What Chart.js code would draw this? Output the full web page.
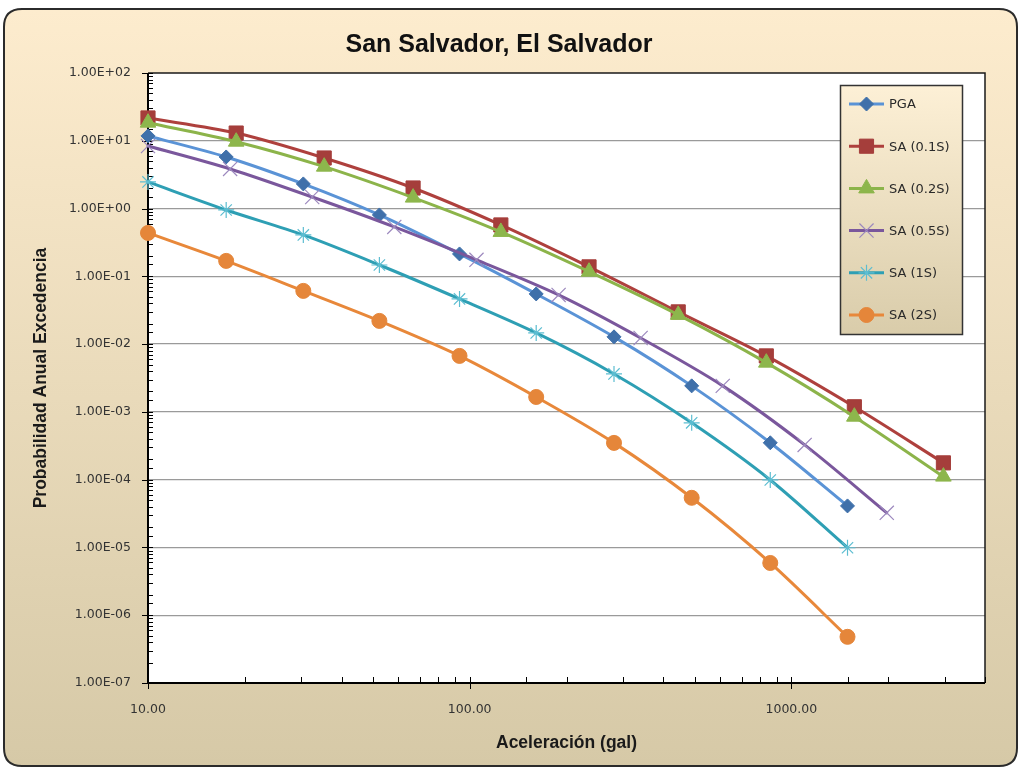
<!DOCTYPE html>
<html><head><meta charset="utf-8">
<script src="https://cdn.jsdelivr.net/npm/chart.js@4.4.1/dist/chart.umd.min.js"></script>
<style>html,body{margin:0;padding:0;background:#fff}canvas{display:block}</style>
</head><body>
<canvas id="c" width="1020" height="769"></canvas>
<script>
// ---- data ----
const chartTitle = 'San Salvador, El Salvador';
const xAxisTitle = 'Aceleración (gal)';
const yAxisTitle = 'Probabilidad Anual Excedencia';
const seriesNames = ['PGA', 'SA (0.1S)', 'SA (0.2S)', 'SA (0.5S)', 'SA (1S)', 'SA (2S)'];

const xPGA  = [10, 17.5, 30.4, 52.4, 93, 161, 281, 490, 860, 1495];
const xSA01 = [10, 18.8, 35.3, 66.7, 125, 235, 445, 836, 1570, 2970];
const xSA02 = [10, 18.8, 35.3, 66.7, 125, 235, 445, 836, 1570, 2970];
const xSA05 = [10, 18, 32.4, 58.3, 105, 189, 340, 612, 1100, 1980];
const xSA1  = [10, 17.5, 30.4, 52.4, 93, 161, 281, 490, 860, 1495];
const xSA2  = [10, 17.5, 30.4, 52.4, 93, 161, 281, 490, 860, 1495];

const yPGA  = [11.8, 5.77, 2.31, 0.805, 0.214, 0.055, 0.0128, 0.00242, 3.5e-4, 4.1e-5];
const ySA01 = [21.7, 13.0, 5.57, 2.01, 0.573, 0.138, 0.0299, 0.0067, 0.00119, 1.77e-4];
const ySA02 = [18.5, 9.7, 4.15, 1.45, 0.452, 0.117, 0.027, 0.00533, 8.5e-4, 1.11e-4];
const ySA05 = [8.38, 3.84, 1.48, 0.536, 0.175, 0.0532, 0.0123, 0.00242, 3.26e-4, 3.24e-5];
const ySA1  = [2.47, 0.953, 0.408, 0.147, 0.0464, 0.0146, 0.00363, 6.9e-4, 9.9e-5, 9.9e-6];
const ySA2  = [0.437, 0.169, 0.061, 0.022, 0.0067, 0.00166, 3.49e-4, 5.4e-5, 5.9e-6, 4.8e-7];

const xLabelValues = [10, 100, 1000];
const yLabelValues = [1e2, 1e1, 1e0, 1e-1, 1e-2, 1e-3, 1e-4, 1e-5, 1e-6, 1e-7];

// ---- styles ----
const styles = [
  {line: '#5A93D6', fill: '#3F70AA', stroke: '#3F70AA', shape: 'rectRot', r: 7, bw: 1},
  {line: '#AE403D', fill: '#A53E3B', stroke: '#A53E3B', shape: 'rect', r: 10, bw: 1},
  {line: '#8CB44A', fill: '#8DB64C', stroke: '#8DB64C', shape: 'triangle', r: 9, bw: 1},
  {line: '#7A579C', fill: 'rgba(0,0,0,0)', stroke: '#9C88BE', shape: 'crossRot', r: 10, bw: 1.2},
  {line: '#2E9FB4', fill: 'rgba(0,0,0,0)', stroke: '#5CBDD1', shape: 'star', r: 8, bw: 1.2},
  {line: '#E8883A', fill: '#E5863A', stroke: '#E5863A', shape: 'circle', r: 7.5, bw: 1}
];
const xs = [xPGA, xSA01, xSA02, xSA05, xSA1, xSA2];
const ys = [yPGA, ySA01, ySA02, ySA05, ySA1, ySA2];

const datasets = seriesNames.map((name, i) => ({
  label: name,
  data: xs[i].map((x, k) => ({x: x, y: ys[i][k]})),
  borderColor: styles[i].line,
  backgroundColor: styles[i].fill,
  borderWidth: 3,
  tension: 0.3,
  clip: false,
  pointStyle: styles[i].shape,
  pointRadius: styles[i].r,
  pointHoverRadius: styles[i].r,
  pointBackgroundColor: styles[i].fill,
  pointBorderColor: styles[i].stroke,
  pointBorderWidth: styles[i].bw,
  order: 10 - i
}));

function isPow10(v) {
  const l = Math.log10(v);
  return Math.abs(l - Math.round(l)) < 1e-6;
}
function fmtE(v) {
  const e = Math.round(Math.log10(v));
  const m = v / Math.pow(10, e);
  const s = e < 0 ? '-' : '+';
  const a = Math.abs(e);
  return m.toFixed(2) + 'E' + s + (a < 10 ? '0' + a : '' + a);
}

const TICK_FONT = {family: '"DejaVu Sans", Verdana, sans-serif', size: 12.5};
const TITLE_FAMILY = '"Liberation Sans", Arial, sans-serif';

const decor = {
  id: 'decor',
  beforeDraw(chart) {
    const ctx = chart.ctx;
    const W = chart.width, H = chart.height;
    ctx.save();
    ctx.fillStyle = '#ffffff';
    ctx.fillRect(0, 0, W, H);
    const x0 = 4, y0 = 9, x1 = 1017, y1 = 766, r = 18;
    const g = ctx.createLinearGradient(0, y0, 0, y1);
    g.addColorStop(0, '#FDECCE');
    g.addColorStop(1, '#D6C9A7');
    ctx.beginPath();
    ctx.moveTo(x0 + r, y0);
    ctx.lineTo(x1 - r, y0);
    ctx.quadraticCurveTo(x1, y0, x1, y0 + r);
    ctx.lineTo(x1, y1 - r);
    ctx.quadraticCurveTo(x1, y1, x1 - r, y1);
    ctx.lineTo(x0 + r, y1);
    ctx.quadraticCurveTo(x0, y1, x0, y1 - r);
    ctx.lineTo(x0, y0 + r);
    ctx.quadraticCurveTo(x0, y0, x0 + r, y0);
    ctx.closePath();
    ctx.fillStyle = g;
    ctx.fill();
    ctx.lineWidth = 2;
    ctx.strokeStyle = '#2b2b2b';
    ctx.stroke();
    const a = chart.chartArea;
    ctx.fillStyle = '#ffffff';
    ctx.fillRect(a.left, a.top, a.right - a.left, a.bottom - a.top);
    ctx.fillStyle = '#111111';
    ctx.font = 'bold 25px ' + TITLE_FAMILY;
    ctx.textAlign = 'center';
    ctx.textBaseline = 'middle';
    ctx.fillText(chartTitle, 499, 45);
    ctx.restore();
  },
  beforeDatasetsDraw(chart) {
    const ctx = chart.ctx;
    const a = chart.chartArea;
    const xS = chart.scales.x, yS = chart.scales.y;
    ctx.save();
    ctx.strokeStyle = '#1a1a1a';
    ctx.lineWidth = 1.5;
    ctx.beginPath();
    ctx.moveTo(a.left, a.top); ctx.lineTo(a.right, a.top); ctx.lineTo(a.right, a.bottom);
    ctx.stroke();
    ctx.strokeStyle = '#000';
    ctx.lineWidth = 2;
    ctx.beginPath();
    ctx.moveTo(a.left, a.top); ctx.lineTo(a.left, a.bottom); ctx.lineTo(a.right, a.bottom);
    ctx.stroke();
    ctx.lineWidth = 1;
    ctx.beginPath();
    yS.ticks.forEach(t => {
      const p = Math.round(yS.getPixelForValue(t.value)) + 0.5;
      if (isPow10(t.value)) { ctx.moveTo(a.left - 6, p); ctx.lineTo(a.left + 5, p); }
      else { ctx.moveTo(a.left, p); ctx.lineTo(a.left + 5, p); }
    });
    xS.ticks.forEach(t => {
      if (t.value > xS.max) return;
      const p = Math.round(xS.getPixelForValue(t.value)) + 0.5;
      if (isPow10(t.value)) { ctx.moveTo(p, a.bottom + 6); ctx.lineTo(p, a.bottom - 6); }
      else { ctx.moveTo(p, a.bottom); ctx.lineTo(p, a.bottom - 6); }
    });
    ctx.stroke();
    ctx.restore();
  },
  afterDraw(chart) {
    const ctx = chart.ctx;
    ctx.save();
    const bx = 840, by = 85, bw = 123, bh = 250;
    const g = ctx.createLinearGradient(0, by, 0, by + bh);
    g.addColorStop(0, '#FDF0D6');
    g.addColorStop(1, '#D9CCAA');
    ctx.fillStyle = g;
    ctx.fillRect(bx, by, bw, bh);
    ctx.strokeStyle = '#333';
    ctx.lineWidth = 1.5;
    ctx.strokeRect(bx + 0.5, by + 0.5, bw - 1, bh - 1);
    chart.data.datasets.forEach((ds, i) => {
      const cy = by + 19 + i * 42.2;
      ctx.strokeStyle = ds.borderColor;
      ctx.lineWidth = 3;
      ctx.beginPath();
      ctx.moveTo(bx + 9, cy); ctx.lineTo(bx + 44, cy);
      ctx.stroke();
      ctx.fillStyle = ds.pointBackgroundColor;
      ctx.strokeStyle = ds.pointBorderColor;
      ctx.lineWidth = ds.pointBorderWidth;
      Chart.helpers.drawPoint(ctx, {pointStyle: ds.pointStyle, radius: ds.pointRadius, borderWidth: ds.pointBorderWidth, rotation: 0}, bx + 26.5, cy);
      ctx.fillStyle = '#2a2a2a';
      ctx.font = '13px ' + TICK_FONT.family;
      ctx.textAlign = 'left';
      ctx.textBaseline = 'middle';
      ctx.fillText(ds.label, bx + 49, cy + 1);
    });
    ctx.restore();
  }
};

new Chart(document.getElementById('c'), {
  type: 'line',
  data: {datasets: datasets},
  plugins: [decor],
  options: {
    responsive: false,
    animation: false,
    devicePixelRatio: 1,
    layout: {padding: {top: 73, right: 35, bottom: 0, left: 0}},
    plugins: {legend: {display: false}, title: {display: false}, tooltip: {enabled: false}},
    elements: {line: {borderCapStyle: 'round', borderJoinStyle: 'round'}},
    scales: {
      x: {
        type: 'logarithmic',
        min: 10, max: 4000,
        afterFit(s) { s.height = 86; },
        border: {display: false},
        grid: {display: false, drawTicks: false},
        ticks: {
          autoSkip: false, maxRotation: 0, padding: 19,
          color: '#333', font: TICK_FONT,
          callback(v) { return xLabelValues.some(l => Math.abs(l - v) < 1e-9) ? Number(v).toFixed(2) : ''; }
        },
        title: {display: true, text: xAxisTitle, color: '#1a1a1a',
          font: {family: TITLE_FAMILY, size: 17.5, weight: 'bold'}, padding: {top: 0, bottom: 15}}
      },
      y: {
        type: 'logarithmic',
        min: 1e-7, max: 100,
        afterFit(s) { s.width = 148; },
        border: {display: false},
        grid: {
          drawTicks: false,
          color: ctx => (ctx.tick && isPow10(ctx.tick.value) && ctx.tick.value < 99 && ctx.tick.value > 1.1e-7) ? '#9A9A9A' : 'rgba(0,0,0,0)',
          lineWidth: 1.3
        },
        ticks: {
          autoSkip: false, padding: 17,
          color: '#333', font: TICK_FONT,
          callback(v) { return yLabelValues.some(l => Math.abs(Math.log10(l) - Math.log10(v)) < 1e-6) ? fmtE(v) : ''; }
        },
        title: {display: true, text: yAxisTitle, color: '#1a1a1a',
          font: {family: TITLE_FAMILY, size: 17.5, weight: 'bold'}, padding: {top: 31, bottom: 0}}
      }
    }
  }
});
</script>
</body></html>
